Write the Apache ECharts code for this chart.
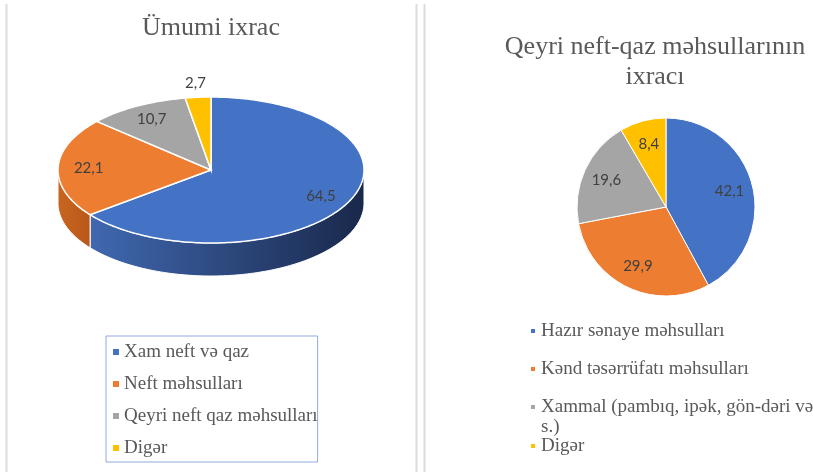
<!DOCTYPE html>
<html>
<head>
<meta charset="utf-8">
<script src="https://cdn.jsdelivr.net/npm/echarts@6/dist/echarts.min.js"></script>
<style>
html, body { margin: 0; padding: 0; background: #fff; }
.chart { position: absolute; left: 0; top: 0; width: 813px; height: 472px; }
</style>
</head>
<body>
<div id="left" class="chart"></div>
<div id="right" class="chart"></div>
<script>
// Ümumi ixrac
var leftNames = ['Xam neft və qaz', 'Neft məhsulları', 'Qeyri neft qaz məhsulları', 'Digər'];
var leftValues = [64.5, 22.1, 10.7, 2.7];
// Qeyri neft-qaz məhsullarının ixracı
var rightNames = ['Hazır sənaye məhsulları', 'Kənd təsərrüfatı məhsulları', 'Xammal (pambıq, ipək, gön-dəri və s.)', 'Digər'];
var rightValues = [42.1, 29.9, 19.6, 8.4];

var pieColors = ['#4472C4', '#ED7D31', '#A5A5A5', '#FFC000'];
var sideColors = [['#4068b0', '#19284a'], ['#c96520', '#b85819'], ['#8a8a8a', '#6e6e6e'], ['#d9a300', '#bf8f00']];
var serif = '"Liberation Serif", "DejaVu Serif", serif';
var textGray = '#595959';

function fmt(v) {
    return String(v).replace('.', ',');
}

function legendText(extra) {
    var s = { fontFamily: serif, fontSize: 19, lineHeight: 20, color: textGray };
    for (var k in extra) s[k] = extra[k];
    return s;
}

function titleStyle(extra) {
    var s = { fontFamily: serif, fontSize: 26, fontWeight: 'normal', color: textGray };
    for (var k in extra) s[k] = extra[k];
    return s;
}

var lineStyle = { stroke: '#dcdcdc', lineWidth: 2 };

// ---------- left: tilted pie ----------
var leftTotal = leftValues.reduce(function (a, b) { return a + b; }, 0);
var pc = { cx: 211, cy: 170, rx: 153, ry: 73, depth: 33 };

function ellPoint(a, dy) {
    return [pc.cx + pc.rx * Math.sin(a), pc.cy - pc.ry * Math.cos(a) + dy];
}

function arcPoints(a0, a1, dy) {
    var pts = [];
    var n = Math.max(2, Math.ceil((a1 - a0) / 0.02));
    for (var k = 0; k <= n; k++) {
        pts.push(ellPoint(a0 + (a1 - a0) * k / n, dy));
    }
    return pts;
}

function makeSlice(i) {
    return function (params, api) {
        var before = 0;
        for (var j = 0; j < i; j++) before += leftValues[j];
        var v = api.value(0);
        var a0 = before / leftTotal * Math.PI * 2;
        var a1 = (before + v) / leftTotal * Math.PI * 2;
        var children = [];
        // front wall, only the part facing us
        var s0 = Math.max(a0, Math.PI / 2);
        var s1 = Math.min(a1, Math.PI * 1.5);
        if (s1 > s0) {
            var side = arcPoints(s0, s1, 0).concat(arcPoints(s0, s1, pc.depth).reverse());
            children.push({
                type: 'polygon',
                z2: 1,
                shape: { points: side },
                style: {
                    fill: {
                        type: 'linear', x: 0, y: 0, x2: 1, y2: 0,
                        colorStops: [
                            { offset: 0, color: sideColors[i][0] },
                            { offset: 1, color: sideColors[i][1] }
                        ]
                    },
                    stroke: '#fff',
                    lineWidth: 1
                }
            });
        }
        var top = [[pc.cx, pc.cy]].concat(arcPoints(a0, a1, 0));
        children.push({
            type: 'polygon',
            z2: 5,
            shape: { points: top },
            style: { fill: pieColors[i], stroke: '#fff', lineWidth: 1.5 }
        });
        var mid = (a0 + a1) / 2;
        var f = v < 5 ? 1.2 : 0.8; // small slice -> label outside
        children.push({
            type: 'text',
            z2: 10,
            x: pc.cx + pc.rx * f * Math.sin(mid),
            y: pc.cy - pc.ry * f * Math.cos(mid),
            style: {
                text: fmt(v),
                fill: '#404040',
                fontSize: 15,
                fontFamily: 'Lato',
                align: 'center',
                verticalAlign: 'middle'
            }
        });
        return { type: 'group', children: children };
    };
}

var leftChart = echarts.init(document.getElementById('left'));
leftChart.setOption({
    animation: false,
    color: pieColors,
    textStyle: { fontFamily: serif },
    title: {
        text: 'Ümumi ixrac',
        left: 211,
        top: 15,
        textAlign: 'center',
        padding: 0,
        textStyle: titleStyle({})
    },
    legend: {
        left: 106,
        top: 336,
        orient: 'vertical',
        padding: [6, 0, 4, 7],
        itemGap: 12,
        itemWidth: 6,
        itemHeight: 6,
        icon: 'rect',
        borderColor: '#8faadc',
        borderWidth: 1,
        selectedMode: false,
        textStyle: legendText({ width: 192 }),
        data: leftNames
    },
    graphic: [
        { type: 'line', shape: { x1: 6.5, y1: 4, x2: 6.5, y2: 472 }, style: lineStyle },
        { type: 'line', shape: { x1: 416.5, y1: 4, x2: 416.5, y2: 472 }, style: lineStyle }
    ],
    series: leftNames.map(function (name, i) {
        return {
            type: 'custom',
            name: name,
            coordinateSystem: 'none',
            silent: true,
            itemStyle: { color: pieColors[i] },
            renderItem: makeSlice(i),
            data: [leftValues[i]]
        };
    })
});

// ---------- right: flat pie ----------
var rightData = rightNames.map(function (n, i) {
    return { name: n, value: rightValues[i], itemStyle: { color: pieColors[i] } };
});
var rightLabelData = rightNames.map(function (n, i) {
    return { name: n, value: rightValues[i] };
});

var rightIconY = [331, 369, 407, 446];
var rightLegends = rightNames.map(function (name, i) {
    var two = i === 2;
    return {
        left: 529,
        top: two ? rightIconY[i] - 30 : rightIconY[i] - 10,
        padding: 0,
        itemWidth: 6,
        itemHeight: 6,
        icon: 'rect',
        selectedMode: false,
        // blank first line keeps the marker level with the first text line
        formatter: function (n) { return two ? '\u00a0\n' + n.replace(' s.)', '\ns.)') : n; },
        textStyle: legendText({}),
        data: [name]
    };
});

var rightChart = echarts.init(document.getElementById('right'));
rightChart.setOption({
    animation: false,
    color: pieColors,
    textStyle: { fontFamily: serif },
    title: {
        text: 'Qeyri neft-qaz məhsullarının\nixracı',
        left: 655,
        top: 32,
        textAlign: 'center',
        padding: 0,
        textStyle: titleStyle({ lineHeight: 30 })
    },
    legend: rightLegends,
    graphic: [
        { type: 'line', shape: { x1: 424.5, y1: 4, x2: 424.5, y2: 472 }, style: lineStyle }
    ],
    series: [{
        type: 'pie',
        center: [666, 207],
        radius: 89,
        startAngle: 90,
        clockwise: true,
        silent: true,
        label: { show: false },
        labelLine: { show: false },
        itemStyle: { borderColor: '#fff', borderWidth: 1 },
        data: rightData
    }, {
        // transparent pie only for placing the labels further out
        type: 'pie',
        center: [666, 207],
        radius: 125,
        startAngle: 90,
        clockwise: true,
        silent: true,
        itemStyle: { color: 'rgba(0,0,0,0)' },
        label: {
            position: 'inside',
            formatter: function (p) { return fmt(p.value); },
            color: '#404040',
            fontSize: 15,
            fontFamily: 'Lato'
        },
        labelLine: { show: false },
        data: rightLabelData
    }]
});
</script>
</body>
</html>
